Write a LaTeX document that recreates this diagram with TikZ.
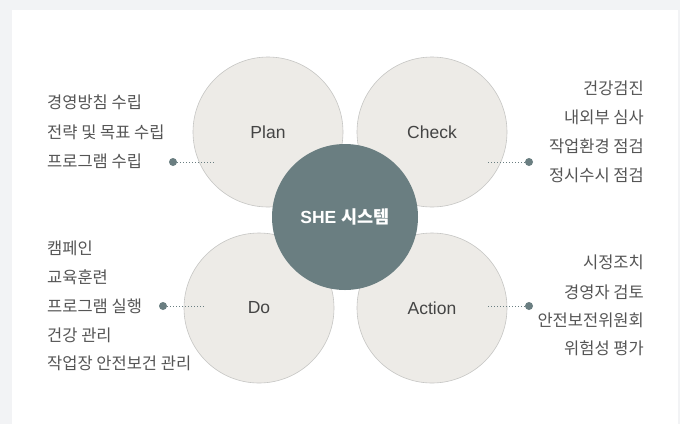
\documentclass[tikz,border=0pt]{standalone}
\usepackage{fontspec}
\setmainfont{Liberation Sans}
\newfontfamily\kr{Noto Sans CJK KR}
\definecolor{bggrey}{HTML}{F2F3F5}
\definecolor{circfill}{HTML}{EDEBE7}
\definecolor{circline}{HTML}{C6C6C4}
\definecolor{slate}{HTML}{6A7E81}
\definecolor{txt}{HTML}{555555}
\definecolor{lbl}{HTML}{444444}
\begin{document}
\begin{tikzpicture}[x=1pt,y=-1pt,
  phase/.style={circle,minimum size=150pt,inner sep=0pt,fill=circfill,draw=circline,line width=0.6pt,text=lbl,font=\fontsize{17.5}{20}\selectfont},
  core/.style={circle,minimum size=146pt,inner sep=0pt,fill=slate,text=white,font=\fontsize{17.5}{20}\selectfont\bfseries},
  item/.style={text=txt,font=\kr\fontsize{16.5}{19}\selectfont,inner sep=0pt},
  litem/.style={item,anchor=west},
  ritem/.style={item,anchor=east},
  dotmark/.style={circle,fill=slate,minimum size=8pt,inner sep=0pt},
  link/.style={draw=slate,line width=1pt,dotted}]
\fill[bggrey] (0,0) rectangle (680,424);
\fill[white] (12,10) rectangle (678,424);
\useasboundingbox (0,0) rectangle (680,424);
% outer circles
\node[phase] (plan) at (268,132) {Plan};
\node[phase] (check) at (432,132) {Check};
\node[phase] (do) at (259,308) {Do};
\node[phase] (action) at (432,308) {Action};
\node[core] (she) at (345,217) {SHE {\kr 시스템}};
% Plan items
\node[litem] (p1) at (47,102) {경영방침 수립};
\node[litem] (p2) at (47,132) {전략 및 목표 수립};
\node[litem] (p3) at (47,161) {프로그램 수립};
% Check items
\node[ritem] (c1) at (644,88) {건강검진};
\node[ritem] (c2) at (644,117) {내외부 심사};
\node[ritem] (c3) at (644,146) {작업환경 점검};
\node[ritem] (c4) at (644,175) {정시수시 점검};
% Do items
\node[litem] (d1) at (47,248) {캠페인};
\node[litem] (d2) at (47,277) {교육훈련};
\node[litem] (d3) at (47,306) {프로그램 실행};
\node[litem] (d4) at (47,335) {건강 관리};
\node[litem] (d5) at (47,363) {작업장 안전보건 관리};
% Action items
\node[ritem] (a1) at (644,262) {시정조치};
\node[ritem] (a2) at (644,292) {경영자 검토};
\node[ritem] (a3) at (644,320) {안전보전위원회};
\node[ritem] (a4) at (644,348) {위험성 평가};
% connectors
\coordinate (pe) at (214,162);
\coordinate (ce) at (488,162);
\coordinate (de) at (204,306);
\coordinate (ae) at (488,306);
\node[dotmark] (pd) at (173,162) {};
\node[dotmark] (cd) at (529,162) {};
\node[dotmark] (dd) at (163,306) {};
\node[dotmark] (ad) at (529,306) {};
\draw[link] (pd) -- (pe);
\draw[link] (cd) -- (ce);
\draw[link] (dd) -- (de);
\draw[link] (ad) -- (ae);
\end{tikzpicture}
\end{document}
